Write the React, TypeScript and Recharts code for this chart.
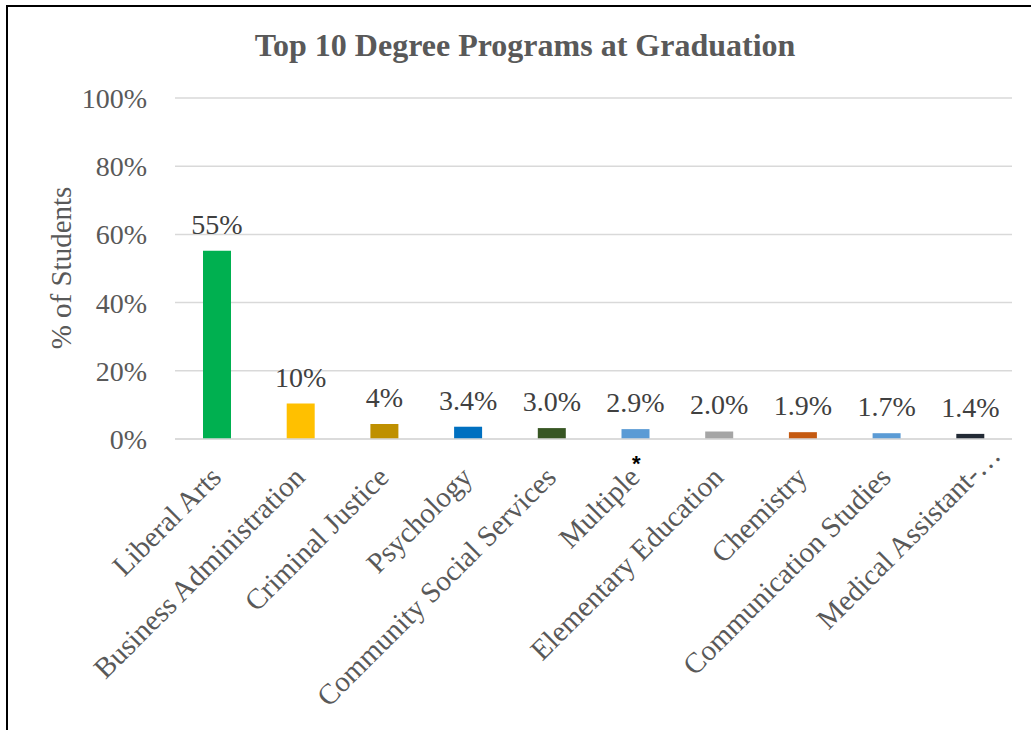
import React from 'react';
import { BarChart, Bar, XAxis, YAxis, CartesianGrid, Cell, LabelList } from 'recharts';

const categories = [
  'Liberal Arts',
  'Business Administration',
  'Criminal Justice',
  'Psychology',
  'Community Social Services',
  'Multiple',
  'Elementary Education',
  'Chemistry',
  'Communication Studies',
  'Medical Assistant-…',
];
const values = [55.2, 10.4, 4.4, 3.6, 3.2, 2.9, 2.2, 2.0, 1.7, 1.5];
const valueLabels = ['55%', '10%', '4%', '3.4%', '3.0%', '2.9%', '2.0%', '1.9%', '1.7%', '1.4%'];
const barColors = ['#00B050', '#FFC000', '#BF9000', '#0070C0', '#375623', '#5B9BD5', '#A5A5A5', '#C55A11', '#5B9BD5', '#222A35'];
const yTicks = [0, 20, 40, 60, 80, 100];

const data = categories.map((name, i) => ({ name, value: values[i], label: valueLabels[i] }));

const FONT = '"Liberation Serif", "Times New Roman", serif';
const GREY = '#595959';

const XTick = (props: any) => {
  const { x, y, payload } = props;
  const name: string = payload.value;
  const star = name === 'Multiple';
  const truncated = name.endsWith('…');
  const dx = truncated ? 32 : 6;
  const dy = truncated ? 10 : 32;
  return (
    <g>
      <g transform={`translate(${x + dx},${y + dy})`}>
        <text transform="rotate(-45)" textAnchor="end" fill={GREY} fontSize={29} fontFamily={FONT}>
          {name}
        </text>
      </g>
      {star && (
        <text x={x + 1} y={y + 24} textAnchor="middle" fill="#000" fontWeight="bold" fontSize={22} fontFamily="Arial, sans-serif">
          *
        </text>
      )}
    </g>
  );
};

export default function App() {
  return (
    <div style={{ position: 'absolute', left: 0, top: 0, width: 1031, height: 730, background: '#fff', overflow: 'hidden' }}>
      <div style={{ position: 'absolute', left: 6, top: 5, width: 1040, height: 740, borderLeft: '2px solid #000', borderTop: '2px solid #000' }} />
      <div style={{ position: 'absolute', left: 0, width: 1050, top: 27, textAlign: 'center', fontFamily: FONT, fontWeight: 'bold', fontSize: 32, color: GREY, lineHeight: '36px' }}>
        Top 10 Degree Programs at Graduation
      </div>
      <div style={{ position: 'absolute', left: 61, top: 268, width: 0, height: 0 }}>
        <div style={{ position: 'absolute', transform: 'translate(-50%, -50%) rotate(-90deg)', whiteSpace: 'nowrap', fontFamily: FONT, fontSize: 29, color: GREY, lineHeight: '32px' }}>
          % of Students
        </div>
      </div>
      <div style={{ position: 'absolute', left: 0, top: 0 }}>
        <BarChart width={1031} height={730} data={data} margin={{ top: 98, right: 19, left: 95, bottom: 0 }}>
          <CartesianGrid vertical={false} stroke="#D9D9D9" strokeWidth={1.5} />
          <XAxis
            dataKey="name"
            interval={0}
            height={291}
            tick={<XTick />}
            tickLine={false}
            axisLine={{ stroke: '#D9D9D9', strokeWidth: 1.5 }}
          />
          <YAxis
            width={80}
            domain={[0, 100]}
            ticks={yTicks}
            tickFormatter={(v: number) => `${v}%`}
            axisLine={false}
            tickLine={false}
            tickSize={0}
            tickMargin={28}
            tick={{ fill: GREY, fontSize: 28, fontFamily: FONT }}
          />
          <Bar dataKey="value" barSize={28} isAnimationActive={false}>
            {data.map((d, i) => (
              <Cell key={d.name} fill={barColors[i]} />
            ))}
            <LabelList dataKey="label" position="top" offset={17} fill="#404040" fontSize={28} fontFamily={FONT} />
          </Bar>
        </BarChart>
      </div>
    </div>
  );
}
